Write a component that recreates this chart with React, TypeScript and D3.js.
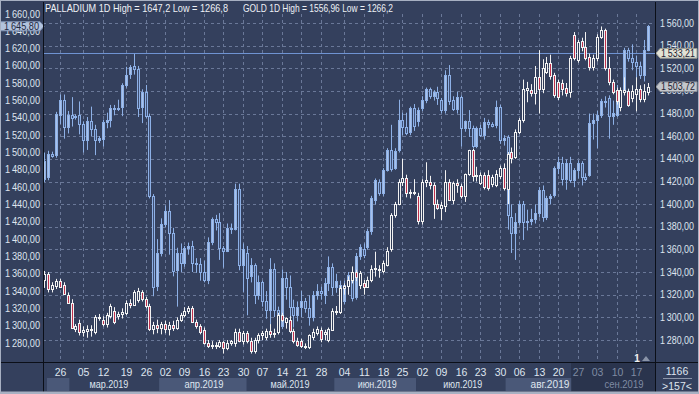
import * as d3 from "d3";

// palladium, daily OHLC (left axis)
const pdO = [1470,1472,1498,1497,1543,1561,1530,1543,1541,1543,1533,1515,1536,1527,1515,1516,1535,1538,1552,1551,1553,1578,1591,1600,1597,1553,1570,1542,1450,1346,1384,1418,1432,1407,1364,1384,1372,1390,1392,1372,1371,1362,1353,1397,1423,1420,1390,1386,1413,1412,1458,1370,1384,1357,1370,1335,1350,1328,1318,1365,1318,1300,1355,1345,1322,1312,1322,1328,1320,1310,1335,1340,1336,1349,1368,1345,1347,1328,1349,1357,1333,1380,1389,1391,1409,1445,1466,1453,1480,1503,1482,1503,1538,1530,1524,1551,1536,1551,1561,1573,1565,1570,1561,1549,1590,1561,1550,1564,1528,1536,1528,1507,1528,1520,1535,1533,1532,1553,1514,1518,1426,1407,1420,1441,1420,1421,1423,1430,1457,1426,1447,1451,1482,1488,1470,1488,1468,1480,1488,1472,1474,1534,1538,1543,1559,1563,1542,1543,1572,1570,1618,1609,1605,1600,1590,1618];
const pdH = [1500,1502,1501,1547,1567,1567,1548,1564,1544,1559,1536,1541,1553,1532,1519,1538,1546,1555,1555,1561,1580,1599,1601,1614,1600,1573,1578,1545,1452,1400,1424,1439,1445,1413,1390,1395,1392,1396,1398,1378,1378,1375,1402,1425,1428,1430,1392,1418,1418,1464,1464,1395,1392,1378,1372,1358,1352,1340,1378,1372,1322,1365,1362,1358,1330,1328,1340,1332,1335,1340,1348,1345,1355,1380,1372,1360,1352,1352,1362,1360,1384,1394,1395,1412,1450,1470,1469,1482,1505,1532,1505,1561,1546,1546,1553,1556,1552,1565,1575,1575,1572,1576,1563,1595,1601,1565,1570,1566,1537,1549,1531,1530,1532,1540,1538,1535,1560,1555,1520,1520,1440,1430,1444,1444,1434,1435,1440,1460,1462,1450,1452,1484,1495,1495,1492,1495,1482,1491,1490,1476,1545,1545,1548,1562,1565,1566,1560,1578,1575,1621,1621,1625,1612,1605,1630,1647.2];
const pdL = [1466,1468,1494,1494,1533,1516,1522,1530,1538,1521,1500,1503,1519,1497,1511,1507,1528,1529,1543,1548,1542,1575,1585,1590,1541,1534,1540,1447,1334,1340,1380,1414,1382,1357,1322,1362,1368,1382,1362,1361,1352,1350,1348,1393,1410,1376,1367,1385,1406,1410,1364,1339,1312,1350,1325,1330,1322,1308,1300,1310,1290,1296,1330,1310,1298,1305,1310,1315,1300,1305,1330,1330,1325,1340,1335,1338,1322,1325,1345,1328,1330,1376,1378,1388,1405,1440,1450,1450,1478,1478,1480,1500,1520,1520,1520,1525,1530,1548,1557,1562,1560,1555,1545,1545,1555,1548,1545,1507,1524,1518,1505,1505,1518,1515,1528,1529,1528,1510,1508,1411,1384,1376,1416,1399,1410,1416,1418,1425,1420,1422,1440,1448,1475,1462,1457,1465,1460,1470,1462,1467,1472,1515,1505,1540,1552,1516,1532,1541,1560,1568,1605,1595,1585,1585,1582,1617];
const pdC = [1490,1498,1496,1545,1561,1530,1543,1540,1542,1533,1515,1536,1527,1514,1517,1535,1538,1552,1551,1552,1578,1590,1599,1597,1551,1570,1542,1450,1345,1384,1418,1432,1407,1363,1384,1372,1390,1392,1372,1371,1362,1353,1397,1423,1420,1390,1386,1413,1412,1458,1370,1388,1355,1370,1335,1350,1328,1318,1365,1318,1300,1355,1345,1322,1312,1322,1328,1320,1310,1335,1340,1338,1349,1368,1345,1352,1328,1347,1359,1332,1380,1391,1382,1409,1447,1468,1453,1480,1503,1481,1502,1538,1530,1523,1551,1531,1549,1561,1573,1565,1570,1563,1549,1590,1560,1550,1564,1528,1536,1528,1507,1528,1520,1535,1533,1531,1553,1514,1517,1428,1407,1420,1441,1420,1421,1423,1430,1457,1426,1447,1450,1482,1489,1470,1488,1468,1480,1488,1472,1470,1534,1538,1543,1559,1560,1542,1546,1572,1570,1618,1609,1605,1600,1590,1618,1645.8];

// gold, daily OHLC (right axis)
const auO = [1333,1338,1325,1328,1332,1329,1320,1313,1290,1295,1287,1288,1289,1287,1300,1298,1294,1301,1306,1301,1303,1304,1313,1311,1315,1322,1316,1310,1290,1293,1291,1294,1290,1293,1291,1298,1302,1306,1308,1296,1292,1289,1277,1275,1276,1275,1278,1273,1277,1277,1287,1279,1286,1279,1270,1280,1284,1283,1288,1285,1287,1302,1296,1298,1288,1279,1279,1275,1274,1283,1286,1289,1285,1280,1289,1306,1305,1326,1328,1333,1340,1329,1330,1327,1333,1343,1342,1341,1346,1360,1390,1400,1420,1423,1410,1410,1407,1385,1420,1420,1417,1400,1397,1398,1420,1404,1419,1416,1407,1427,1448,1425,1419,1426,1426,1418,1417,1425,1432,1413,1446,1442,1464,1474,1501,1501,1498,1512,1502,1517,1525,1514,1508,1507,1503,1499,1549,1527,1544,1539,1530,1521,1529,1548,1554,1520,1508,1501,1486,1499,1500,1494,1497,1502,1493,1499];
const auH = [1341,1340,1331,1334,1334,1331,1322,1316,1294,1298,1292,1293,1293,1302,1303,1301,1304,1312,1309,1305,1308,1315,1316,1324,1326,1324,1318,1312,1296,1298,1296,1297,1296,1297,1300,1304,1309,1310,1310,1298,1294,1291,1280,1279,1278,1280,1279,1280,1280,1290,1290,1288,1288,1282,1282,1286,1288,1290,1294,1290,1304,1304,1300,1301,1290,1282,1281,1277,1285,1290,1292,1291,1289,1291,1308,1310,1328,1330,1336,1345,1342,1341,1333,1336,1346,1358,1346,1350,1362,1392,1402,1422,1440,1426,1413,1422,1410,1422,1437,1425,1419,1404,1402,1430,1422,1420,1422,1418,1427,1448,1449,1433,1428,1428,1430,1426,1430,1434,1436,1446,1450,1466,1476,1510,1508,1506,1522,1536,1528,1530,1532,1516,1510,1510,1507,1531,1552,1545,1547,1552,1533,1532,1550,1556.96,1555,1530,1510,1503,1503,1512,1502,1505,1512,1505,1506,1507];
const auL = [1326,1322,1322,1325,1326,1320,1312,1290,1287,1284,1283,1282,1283,1285,1297,1292,1291,1299,1294,1298,1299,1302,1308,1310,1313,1314,1308,1288,1285,1286,1285,1286,1284,1288,1289,1296,1300,1303,1295,1290,1285,1276,1273,1272,1272,1273,1268,1271,1275,1274,1278,1276,1277,1268,1268,1277,1280,1280,1282,1282,1285,1296,1290,1286,1277,1274,1273,1272,1272,1280,1284,1278,1280,1278,1288,1302,1303,1320,1320,1330,1332,1325,1320,1326,1331,1336,1335,1339,1345,1358,1388,1399,1416,1406,1405,1408,1382,1382,1415,1413,1387,1395,1386,1393,1404,1400,1410,1405,1402,1425,1420,1420,1417,1413,1412,1415,1415,1422,1412,1400,1436,1440,1462,1472,1490,1495,1488,1480,1498,1515,1510,1494,1492,1496,1495,1494,1527,1525,1535,1527,1518,1518,1526,1546,1518,1505,1497,1488,1482,1496,1486,1490,1482,1490,1490,1496];
const auC = [1338,1325,1329,1332,1327,1321,1313,1291,1292,1287,1289,1290,1290,1300,1299,1294,1302,1310,1296,1303,1305,1313,1311,1322,1323,1316,1310,1290,1293,1291,1294,1290,1293,1291,1298,1302,1306,1308,1296,1292,1287,1277,1275,1276,1275,1278,1273,1277,1279,1287,1279,1286,1279,1270,1280,1284,1286,1288,1285,1286,1302,1298,1299,1288,1279,1276,1275,1274,1284,1287,1290,1281,1287,1290,1306,1305,1326,1328,1333,1340,1336,1339,1327,1333,1343,1344,1343,1348,1359,1390,1400,1420,1423,1410,1411,1411,1385,1420,1421,1417,1400,1397,1399,1420,1404,1419,1417,1407,1427,1448,1425,1426,1426,1415,1414,1424,1427,1432,1414,1444,1441,1464,1474,1502,1503,1498,1512,1502,1520,1525,1513,1496,1495,1502,1498,1529,1529,1543,1539,1529,1521,1529,1548,1554,1520,1508,1499,1491,1501,1501,1488,1500,1502,1493,1500,1503.72];

// x axis: weekly ticks (bar index) and months
const tickIdx = [4,10,15,21,26,31,36,41,46,51,56,61,66,71,77,82,87,92,97,102,107,112,117,122,127,132,137,142,147,152];
const tickLbl = ["26","05","12","19","26","02","09","16","23","30","07","14","21","28","04","11","18","25","02","09","16","23","30","06","13","20","27","03","10","17"];
const monthLbl = ["мар.2019","апр.2019","май.2019","июн.2019","июл.2019","авг.2019","сен.2019"];
const monthStart = [6.5,29.5,52,74.5,95.5,118.5,135.5];
const monthMid = [16.6,41,63.1,85.5,107.5,129.9,148.9];

const pdTicks = d3.range(1280, 1661, 20);
const auTicks = d3.range(1280, 1561, 20);
const pdLast = 1645.8;
const auLast = 1503.72;
const levelLine = 1533.21;
const header1 = "PALLADIUM 1D High = 1647,2 Low = 1266,8";
const header2 = "GOLD 1D High = 1556,96 Low = 1266,2";

const W = 699, H = 394;
const L = 43, R = 655, B = 362;
const BG = "#34405d";
const FONT = "'Liberation Sans', Arial, sans-serif";

const fmt = d3.formatLocale({ decimal: ",", thousands: "\u2009", grouping: [3], currency: ["", ""] }).format(",.2f");

export default function App() {
  const n = pdC.length;
  const x = d3.scaleLinear().domain([0, n - 1]).range([44.3, 647.7]);
  const yPd = d3.scaleLinear().domain([1280, 1660]).range([343, 14]);
  const yAu = d3.scaleLinear().domain([1280, 1560]).range([340, 23]);
  const px = (i: number) => Math.round(x(i));

  const candle = (i: number, o: number, h: number, l: number, c: number, y: d3.ScaleLinear<number, number>, up: boolean, kind: string) => {
    const cx = px(i);
    const top = Math.round(y(Math.max(o, c)));
    const bot = Math.round(y(Math.min(o, c)));
    const wick = kind === "pd" ? "#8db0e6" : "#f2f2f2";
    let fill: string;
    if (kind === "pd") fill = up ? "#a9c2ea" : "#3f5075";
    else fill = up ? "#2e3a56" : "#c0304c";
    return (
      <g key={kind + i}>
        <line x1={cx + 0.5} x2={cx + 0.5} y1={y(h)} y2={y(l)} stroke={wick} strokeWidth={1} />
        <rect x={cx - 0.5} y={top + 0.5} width={2} height={Math.max(1, bot - top)} fill={fill} stroke={wick} strokeWidth={1} />
      </g>
    );
  };

  const bandEdges = [L, ...monthStart.map((m) => x(m)), R];
  const bandLight = [true, false, true, false, true, false, true, false];

  return (
    <>
      <style>{`body{margin:0;background:${BG}}`}</style>
      <svg width={W} height={H} style={{ display: "block", fontFamily: FONT }}>
        <rect x={0} y={0} width={W} height={H} fill={BG} />

        {/* month bands in the x axis */}
        {bandEdges.slice(0, -1).map((x0, k) => (
          <rect key={"band" + k} x={Math.max(L + 4, x0)} y={378} width={Math.max(0, Math.min(R, bandEdges[k + 1]) - Math.max(L + 4, x0))} height={13}
            fill={bandLight[k] ? "#4a5878" : BG} />
        ))}
        <rect x={571} y={363} width={R - 571} height={29} fill="#1c2438" opacity={0.4} />

        {/* grid */}
        {auTicks.map((t) => (
          <line key={"hg" + t} x1={L} x2={R} y1={Math.round(yAu(t)) + 0.5} y2={Math.round(yAu(t)) + 0.5}
            stroke="#6a7898" strokeDasharray="3,3" />
        ))}
        {tickIdx.map((t) => (
          <line key={"vg" + t} x1={px(t) + 0.5} x2={px(t) + 0.5} y1={14} y2={B}
            stroke="#6a7898" strokeDasharray="3,3" />
        ))}

        {/* level line */}
        <line x1={L} x2={R} y1={Math.round(yAu(levelLine)) + 0.5} y2={Math.round(yAu(levelLine)) + 0.5} stroke="#6f93d2" strokeWidth={1} />

        {/* palladium then gold */}
        {pdC.map((c, i) => candle(i, pdO[i], pdH[i], pdL[i], c, yPd, c >= pdO[i], "pd"))}
        {auC.map((c, i) => candle(i, auO[i], auH[i], auL[i], c, yAu, c >= auO[i], "au"))}

        {/* header */}
        <text x={45} y={11.5} fontSize={11} fill="#eef1f6" textLength={183} lengthAdjust="spacingAndGlyphs">{header1}</text>
        <text x={243} y={11.5} fontSize={11} fill="#eef1f6" textLength={150} lengthAdjust="spacingAndGlyphs">{header2}</text>

        {/* left axis */}
        {pdTicks.map((t) => (
          <text key={"lt" + t} x={40} y={yPd(t)} dy="0.35em" textAnchor="end" fontSize={10} fill="#dfe5ef"
            textLength={35} lengthAdjust="spacingAndGlyphs">{fmt(t)}</text>
        ))}
        <path d={`M0.5,${yPd(pdLast) - 4.5}H40L44,${yPd(pdLast)}L40,${yPd(pdLast) + 4.5}H0.5Z`} fill="#b3c3dd" stroke="#8193b4" />
        <text x={39} y={yPd(pdLast)} dy="0.35em" textAnchor="end" fontSize={10} fill="#1d283f"
          textLength={35} lengthAdjust="spacingAndGlyphs">{fmt(pdLast)}</text>

        {/* right axis */}
        {auTicks.map((t) => (
          <text key={"rt" + t} x={660} y={yAu(t)} dy="0.35em" fontSize={10} fill="#dfe5ef"
            textLength={34} lengthAdjust="spacingAndGlyphs">{fmt(t)}</text>
        ))}
        <path d={`M656,${yAu(levelLine)}L660,${yAu(levelLine) - 4.8}H697V${yAu(levelLine) + 4.8}H660Z`} fill="#e2e2d6" stroke="#9a9c94" />
        <text x={661} y={yAu(levelLine)} dy="0.35em" fontSize={10} fill="#1d2233" textLength={34} lengthAdjust="spacingAndGlyphs">{fmt(levelLine)}</text>
        <path d={`M656,${yAu(auLast)}L660,${yAu(auLast) - 4.8}H697V${yAu(auLast) + 4.8}H660Z`} fill="#c3c6cb" stroke="#8e929a" />
        <text x={661} y={yAu(auLast)} dy="0.35em" fontSize={10} fill="#1d2233" textLength={34} lengthAdjust="spacingAndGlyphs">{fmt(auLast)}</text>

        {/* x axis */}
        {tickIdx.map((t, k) => (
          <text key={"xt" + k} x={px(t) + 0.5} y={372} dy="0.35em" textAnchor="middle" fontSize={10.5}
            fill={t >= 137 ? "#7f8ba3" : "#dfe5ef"}>{tickLbl[k]}</text>
        ))}
        {monthLbl.map((m, k) => (
          <text key={"mt" + k} x={x(monthMid[k])} y={384.5} dy="0.35em" textAnchor="middle" fontSize={10.5}
            fill={k === 6 ? "#7f8ba3" : "#dfe5ef"} textLength={39} lengthAdjust="spacingAndGlyphs">{m}</text>
        ))}

        <text x={637} y={358} dy="0.35em" textAnchor="middle" fontSize={10} fontWeight="bold" fill="#f0f0f0">1</text>
        <path d="M642,361L646,356L650,361Z" fill="#8a94a8" />

        {/* corner cell */}
        <text x={677} y={371} dy="0.35em" textAnchor="middle" fontSize={10.5} fill="#dfe5ef">1166</text>
        <line x1={663} x2={692} y1={378.5} y2={378.5} stroke="#8a94a8" />
        <text x={677} y={386} dy="0.35em" textAnchor="middle" fontSize={10.5} fill="#dfe5ef">&gt;157&lt;</text>

        {/* frame */}
        <line x1={L + 0.5} x2={L + 0.5} y1={2} y2={392} stroke="#0b0f18" />
        <line x1={R + 0.5} x2={R + 0.5} y1={2} y2={392} stroke="#0b0f18" />
        <line x1={1} x2={698} y1={B + 0.5} y2={B + 0.5} stroke="#0b0f18" />
        <rect x={0.5} y={0.5} width={W - 1} height={H - 1} fill="none" stroke="#a7b0c2" />
        <line x1={0} x2={W} y1={H - 1.5} y2={H - 1.5} stroke="#a7b0c2" strokeWidth={2} />
      </svg>
    </>
  );
}
